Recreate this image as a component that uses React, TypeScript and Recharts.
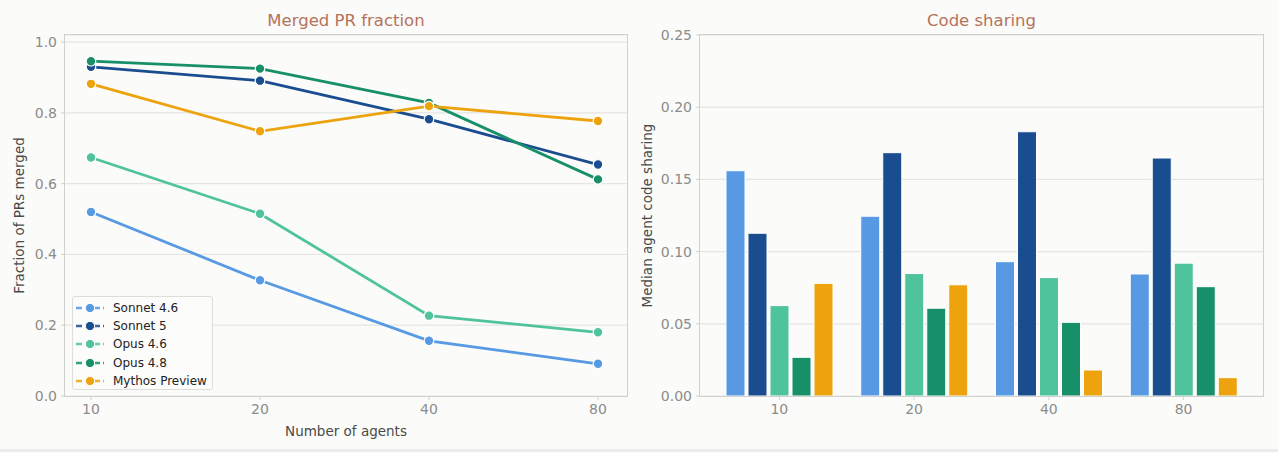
import {
    LineChart,
    Line,
    BarChart,
    Bar,
    XAxis,
    YAxis,
    CartesianGrid,
} from "recharts";

// number of agents on both charts
const agents = ["10", "20", "40", "80"];

// merged PR fraction
const sonnet46Merged = [0.52, 0.327, 0.156, 0.091];
const sonnet5Merged = [0.93, 0.891, 0.782, 0.654];
const opus46Merged = [0.674, 0.515, 0.227, 0.18];
const opus48Merged = [0.946, 0.925, 0.828, 0.612];
const mythosMerged = [0.882, 0.748, 0.819, 0.777];

// median agent code sharing
const sonnet46Sharing = [0.156, 0.1245, 0.093, 0.0845];
const sonnet5Sharing = [0.1127, 0.1685, 0.183, 0.1648];
const opus46Sharing = [0.0626, 0.0848, 0.082, 0.092];
const opus48Sharing = [0.0268, 0.0608, 0.051, 0.0757];
const mythosSharing = [0.078, 0.077, 0.018, 0.0127];

const fractionTicks = [0, 0.2, 0.4, 0.6, 0.8, 1.0];
const sharingTicks = [0, 0.05, 0.1, 0.15, 0.2, 0.25];

const models = [
    {key: "sonnet46", name: "Sonnet 4.6", color: "#5799e3"},
    {key: "sonnet5", name: "Sonnet 5", color: "#1a4d90"},
    {key: "opus46", name: "Opus 4.6", color: "#4fc39b"},
    {key: "opus48", name: "Opus 4.8", color: "#178f68"},
    {key: "mythos", name: "Mythos Preview", color: "#eca30d"},
];

const mergedData = agents.map((a, i) => ({
    agents: a,
    sonnet46: sonnet46Merged[i],
    sonnet5: sonnet5Merged[i],
    opus46: opus46Merged[i],
    opus48: opus48Merged[i],
    mythos: mythosMerged[i],
}));

const sharingData = agents.map((a, i) => ({
    agents: a,
    sonnet46: sonnet46Sharing[i],
    sonnet5: sonnet5Sharing[i],
    opus46: opus46Sharing[i],
    opus48: opus48Sharing[i],
    mythos: mythosSharing[i],
}));

const FONT = "'DejaVu Sans', 'Noto Sans', sans-serif";
const BG = "#fbfbf9";
const FRAME = "#d0d0ce";
const GRID = "#e5e5e3";
const LABEL = "#4a4a48";
const TICK = {fontSize: 14, fill: "#8c8c8a", fontFamily: FONT};

const titleStyle = {
    position: "absolute" as const,
    top: 11,
    fontSize: 16.5,
    color: "#b5725a",
    fontFamily: FONT,
    textAlign: "center" as const,
};

// rotated y label, centred on the axis box
const yLabel = (text: string, offset: number) => (props: any) => {
    const vb = props.viewBox || {};
    const x = vb.x + offset;
    const y = vb.y + vb.height / 2;
    return (
        <text
            x={x}
            y={y}
            transform={`rotate(-90 ${x} ${y})`}
            textAnchor="middle"
            dominantBaseline="central"
            fontSize={13.5}
            fill={LABEL}
            fontFamily={FONT}
        >
            {text}
        </text>
    );
};

const LegendBox = () => (
    <div
        style={{
            position: "absolute",
            left: 72,
            top: 296,
            width: 139,
            height: 92,
            border: "1px solid #dddddb",
            borderRadius: 3,
            background: "#fcfcfb",
            fontFamily: FONT,
            fontSize: 12,
            color: "#222",
            boxSizing: "content-box",
        }}
    >
        {models.map((m, i) => (
            <div
                key={m.key}
                style={{position: "absolute", left: 2, top: 2 + i * 18.2, display: "flex", alignItems: "center", height: 18}}
            >
                <svg width={30} height={12} style={{marginRight: 8}}>
                    <line x1={1} y1={6} x2={29} y2={6} stroke={m.color} strokeWidth={2.4} strokeDasharray="6 3" opacity={0.85}/>
                    <circle cx={15} cy={6} r={4.6} fill={m.color} stroke="#fff" strokeWidth={1}/>
                </svg>
                {m.name}
            </div>
        ))}
    </div>
);

const Frame = ({left, top, width, height}: {left: number; top: number; width: number; height: number}) => (
    <div
        style={{
            position: "absolute",
            left,
            top,
            width,
            height,
            border: `1.5px solid ${FRAME}`,
            boxSizing: "border-box",
            pointerEvents: "none",
        }}
    />
);

export default function App() {
    return (
        <div
            style={{
                position: "absolute",
                left: 0,
                top: 0,
                width: 1278,
                height: 452,
                background: BG,
                overflow: "hidden",
            }}
        >
            <div style={{...titleStyle, left: 65, width: 562}}>Merged PR fraction</div>
            <div style={{...titleStyle, left: 700, width: 563}}>Code sharing</div>

            <div style={{position: "absolute", left: 0, top: 0}}>
                <LineChart
                    width={640}
                    height={452}
                    data={mergedData}
                    margin={{top: 35, right: 13, bottom: 0, left: 0}}
                >
                    <CartesianGrid vertical={false} stroke={GRID} strokeWidth={1.2}/>
                    <XAxis
                        dataKey="agents"
                        height={56}
                        padding={{left: 26, right: 29}}
                        tick={TICK}
                        tickLine={{stroke: FRAME}}
                        tickSize={4}
                        tickMargin={4}
                        axisLine={false}
                        label={{value: "Number of agents", position: "insideBottom", offset: 16, fontSize: 13.5, fill: LABEL, fontFamily: FONT}}
                    />
                    <YAxis
                        width={65}
                        domain={[0, 1.02]}
                        ticks={fractionTicks}
                        tickFormatter={(v: number) => v.toFixed(1)}
                        tick={TICK}
                        tickLine={{stroke: FRAME}}
                        tickSize={4}
                        tickMargin={4}
                        axisLine={false}
                        label={yLabel("Fraction of PRs merged", 19)}
                    />
                    {models.map((m) => (
                        <Line
                            key={m.key}
                            type="linear"
                            dataKey={m.key}
                            name={m.name}
                            stroke={m.color}
                            strokeWidth={2.8}
                            dot={{r: 4.8, fill: m.color, stroke: "#fff", strokeWidth: 1.2}}
                            isAnimationActive={false}
                        />
                    ))}
                </LineChart>
            </div>
            <Frame left={64} top={34} width={564} height={363}/>
            <LegendBox/>

            <div style={{position: "absolute", left: 638, top: 0}}>
                <BarChart
                    width={640}
                    height={452}
                    data={sharingData}
                    margin={{top: 35, right: 15, bottom: 0, left: 0}}
                    barCategoryGap={14}
                    barGap={3}
                >
                    <CartesianGrid vertical={false} stroke={GRID} strokeWidth={1.2}/>
                    <XAxis
                        dataKey="agents"
                        height={56}
                        padding={{left: 12, right: 12}}
                        tick={TICK}
                        tickLine={{stroke: FRAME}}
                        tickSize={4}
                        tickMargin={4}
                        axisLine={false}
                    />
                    <YAxis
                        width={62}
                        domain={[0, 0.25]}
                        ticks={sharingTicks}
                        tickFormatter={(v: number) => v.toFixed(2)}
                        tick={TICK}
                        tickLine={{stroke: FRAME}}
                        tickSize={4}
                        tickMargin={4}
                        axisLine={false}
                        label={yLabel("Median agent code sharing", 9)}
                    />
                    {models.map((m) => (
                        <Bar
                            key={m.key}
                            dataKey={m.key}
                            name={m.name}
                            fill={m.color}
                            stroke="#fff"
                            strokeWidth={1}
                            isAnimationActive={false}
                        />
                    ))}
                </BarChart>
            </div>
            <Frame left={699} top={34} width={565} height={363}/>

            <div style={{position: "absolute", left: 0, top: 449, width: 1278, height: 3, background: "#ebebe9"}}/>
        </div>
    );
}
